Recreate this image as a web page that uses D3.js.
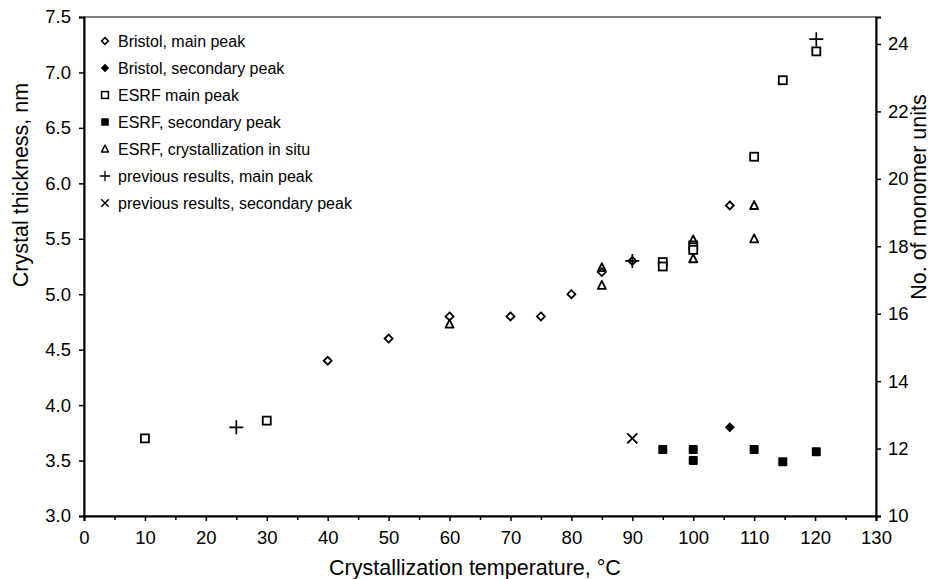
<!DOCTYPE html>
<html>
<head>
<meta charset="utf-8">
<script src="https://cdn.jsdelivr.net/npm/d3@7/dist/d3.min.js"></script>
<style>
  html, body { margin: 0; padding: 0; background: #fff; }
  svg { display: block; font-family: "Liberation Sans", Arial, sans-serif; }
</style>
</head>
<body>
<svg id="chart" width="932" height="579"></svg>
<script>
// Crystallization temperature (°C) vs crystal thickness (nm)
const bristolMain = [[40,4.4],[50,4.6],[60,4.8],[70,4.8],[75,4.8],[80,5.0],[85,5.2],[90,5.3],[106,5.8]];
const bristolSecondary = [[106,3.8]];
const esrfMain = [[10,3.7],[30,3.86],[95,5.29],[95,5.25],[100,5.44],[100,5.4],[110,6.24],[114.7,6.93],[120.2,7.19]];
const esrfSecondary = [[95,3.6],[100,3.6],[100,3.5],[110,3.6],[114.7,3.49],[120.2,3.58]];
const esrfInSitu = [[60,4.73],[85,5.24],[85,5.08],[100,5.49],[100,5.32],[110,5.8],[110,5.5]];
const previousMain = [[25,3.8],[90,5.3],[120.2,7.3]];
const previousSecondary = [[90,3.7]];

const seriesNames = [
  "Bristol, main peak",
  "Bristol, secondary peak",
  "ESRF main peak",
  "ESRF, secondary peak",
  "ESRF, crystallization in situ",
  "previous results, main peak",
  "previous results, secondary peak"
];
const seriesData = [bristolMain, bristolSecondary, esrfMain, esrfSecondary, esrfInSitu, previousMain, previousSecondary];
const seriesSymbols = ["diamondOpen","diamondFilled","squareOpen","squareFilled","triangleOpen","plus","cross"];

const xTicks = d3.range(0, 131, 10);
const xMinorTicks = d3.range(5, 130, 10);
const yTicks = [3.0,3.5,4.0,4.5,5.0,5.5,6.0,6.5,7.0,7.5];
const y2Ticks = [10,12,14,16,18,20,22,24];

const svg = d3.select("#chart");
const plotL = 84, plotR = 876, plotT = 17, plotB = 516;

const x = d3.scaleLinear().domain([0,130]).range([plotL,plotR]);
const y = d3.scaleLinear().domain([3.0,7.5]).range([plotB,plotT]);
const y2 = d3.scaleLinear().domain([10,24.8]).range([plotB,plotT]);

// frame
svg.append("rect").attr("x",plotL).attr("y",plotT).attr("width",plotR-plotL).attr("height",plotB-plotT)
  .attr("fill","none").attr("stroke","#000").attr("stroke-width",1);

// x axis
const gx = svg.append("g").attr("transform",`translate(0,${plotB})`)
  .call(d3.axisBottom(x).tickValues(xTicks).tickFormat(d3.format("d")).tickSize(5).tickPadding(5));
svg.append("g").attr("transform",`translate(0,${plotB})`)
  .call(d3.axisBottom(x).tickValues(xMinorTicks).tickFormat("").tickSize(4))
  .select(".domain").remove();

// left axis
const gy = svg.append("g").attr("transform",`translate(${plotL},0)`)
  .call(d3.axisLeft(y).tickValues(yTicks).tickFormat(d3.format(".1f")).tickSize(5).tickPadding(8));

// right axis
const gy2 = svg.append("g").attr("transform",`translate(${plotR},0)`)
  .call(d3.axisRight(y2).tickValues(y2Ticks).tickFormat(d3.format("d")).tickSize(5).tickPadding(7));

svg.selectAll(".domain").attr("stroke","#000").attr("stroke-width",2);
svg.selectAll(".tick line").attr("stroke","#000").attr("stroke-width",1.5);
svg.selectAll(".tick text").attr("fill","#000").attr("font-size",18.5).attr("font-family","Liberation Sans, Arial, sans-serif");
gx.selectAll(".tick text").attr("dy","0.95em");

// axis titles
svg.append("text").attr("x",475).attr("y",575).attr("text-anchor","middle")
  .attr("font-size",21.5).text("Crystallization temperature, °C");
svg.append("text").attr("transform",`translate(28,185) rotate(-90)`).attr("text-anchor","middle")
  .attr("font-size",21.5).text("Crystal thickness, nm");
svg.append("text").attr("transform",`translate(926,197) rotate(-90)`).attr("text-anchor","middle")
  .attr("font-size",21.5).text("No. of monomer units");

// marker drawing
function drawMarker(g, kind) {
  switch(kind) {
    case "diamondOpen":
      g.append("path").attr("d","M0,-4L4,0L0,4L-4,0Z").attr("fill","#fff").attr("stroke","#000").attr("stroke-width",1.8); break;
    case "diamondFilled":
      g.append("path").attr("d","M0,-5L5,0L0,5L-5,0Z").attr("fill","#000"); break;
    case "squareOpen":
      g.append("rect").attr("x",-4).attr("y",-4).attr("width",8).attr("height",8).attr("fill","#fff").attr("stroke","#000").attr("stroke-width",1.8); break;
    case "squareFilled":
      g.append("rect").attr("x",-4.5).attr("y",-4.5).attr("width",9).attr("height",9).attr("rx",1).attr("fill","#000"); break;
    case "triangleOpen":
      g.append("path").attr("d","M0,-4.5L4,3.5L-4,3.5Z").attr("fill","none").attr("stroke","#000").attr("stroke-width",1.8).attr("stroke-linejoin","round"); break;
    case "plus":
      g.append("path").attr("d","M-7,0H7M0,-7V7").attr("stroke","#000").attr("stroke-width",1.7); break;
    case "cross":
      g.append("path").attr("d","M-5,-5L5,5M5,-5L-5,5").attr("stroke","#000").attr("stroke-width",1.9); break;
  }
}

seriesData.forEach((data, i) => {
  const g = svg.append("g");
  data.forEach(d => {
    const m = g.append("g").attr("transform",`translate(${x(d[0])},${y(d[1])})`);
    drawMarker(m, seriesSymbols[i]);
  });
});

// legend
const legend = svg.append("g");
seriesNames.forEach((name, i) => {
  const row = legend.append("g").attr("transform",`translate(105,${41 + i*27})`);
  drawMarker(row.append("g").attr("transform", seriesSymbols[i]==="plus"||seriesSymbols[i]==="cross" ? "scale(0.75)" : "scale(0.85)"), seriesSymbols[i]);
  row.append("text").attr("x",13).attr("y",0).attr("dy","0.35em").attr("font-size",16).text(name);
});
</script>
</body>
</html>
